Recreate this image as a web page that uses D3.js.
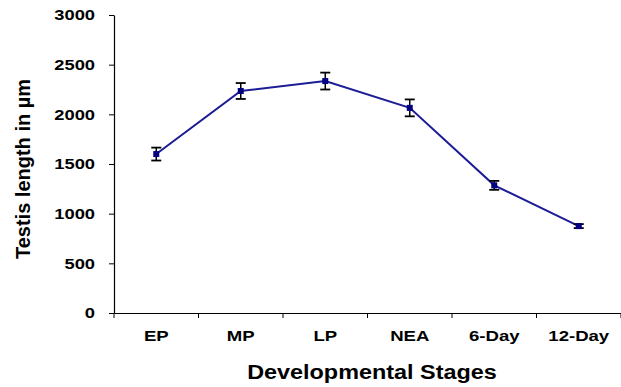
<!DOCTYPE html>
<html>
<head>
<meta charset="utf-8">
<script src="https://cdn.jsdelivr.net/npm/d3@7"></script>
<style>
  body { margin: 0; background: #fff; }
  text { font-family: "Liberation Sans", Arial, sans-serif; font-weight: bold; fill: #000; }
</style>
</head>
<body>
<div id="chart"></div>
<script>
// Chart data
var stages = ["EP", "MP", "LP", "NEA", "6-Day", "12-Day"];
var lengths = [1600, 2235, 2335, 2065, 1285, 875];
var errors = [65, 80, 85, 85, 45, 20];
var yTicks = [0, 500, 1000, 1500, 2000, 2500, 3000];

var margin = {top: 15, right: 0, bottom: 74, left: 114};
var width = 621 - margin.left - margin.right,
    height = 387 - margin.top - margin.bottom;

var svg = d3.select("#chart").append("svg")
    .attr("width", 621)
    .attr("height", 387)
    .append("g")
    .attr("transform", "translate(" + margin.left + "," + margin.top + ")");

var x = d3.scaleBand()
    .domain(stages)
    .range([0, width]);

var y = d3.scaleLinear()
    .domain([0, 3000])
    .range([height, 0]);

// the original text is a bit wide, so stretch it horizontally
function stretch(sel, k) {
    sel.each(function() {
        var w = this.getComputedTextLength();
        d3.select(this)
            .attr("textLength", w * k)
            .attr("lengthAdjust", "spacingAndGlyphs");
    });
}

// Y axis
var yAxis = svg.append("g")
    .call(d3.axisLeft(y).tickValues(yTicks).tickFormat(d3.format("d")).tickSize(5).tickSizeOuter(0));
yAxis.selectAll("text")
    .style("font-size", "15px")
    .attr("x", -19)
    .call(stretch, 1.22);

// X axis
var xAxis = svg.append("g")
    .attr("transform", "translate(0," + height + ")")
    .call(d3.axisBottom(x).tickSize(0).tickSizeOuter(0));
xAxis.selectAll("text")
    .style("font-size", "14.5px")
    .attr("dy", null)
    .attr("y", 28)
    .call(stretch, 1.28);

// tick marks between categories
xAxis.selectAll("line.sep")
    .data(d3.range(stages.length + 1))
    .enter().append("line")
    .attr("class", "sep")
    .attr("x1", function(i) { return i * x.bandwidth(); })
    .attr("x2", function(i) { return i * x.bandwidth(); })
    .attr("y1", 0)
    .attr("y2", 5)
    .attr("stroke", "#000");

svg.selectAll(".domain").attr("stroke", "#000").attr("stroke-width", 1.2);

// Line
var points = stages.map(function(s, i) { return {stage: s, value: lengths[i], err: errors[i]}; });

var line = d3.line()
    .x(function(d) { return x(d.stage) + x.bandwidth() / 2; })
    .y(function(d) { return y(d.value); });

svg.append("path")
    .datum(points)
    .attr("d", line)
    .attr("fill", "none")
    .attr("stroke", "#1c1c96")
    .attr("stroke-width", 2);

// Error bars
var eb = svg.selectAll("g.err")
    .data(points)
    .enter().append("g")
    .attr("class", "err")
    .attr("transform", function(d) { return "translate(" + (x(d.stage) + x.bandwidth() / 2) + ",0)"; });

eb.append("line")
    .attr("y1", function(d) { return y(d.value + d.err); })
    .attr("y2", function(d) { return y(d.value - d.err); })
    .attr("stroke", "#000")
    .attr("stroke-width", 1.5);

eb.append("line")
    .attr("x1", -5).attr("x2", 5)
    .attr("y1", function(d) { return y(d.value + d.err); })
    .attr("y2", function(d) { return y(d.value + d.err); })
    .attr("stroke", "#000")
    .attr("stroke-width", 1.8);

eb.append("line")
    .attr("x1", -5).attr("x2", 5)
    .attr("y1", function(d) { return y(d.value - d.err); })
    .attr("y2", function(d) { return y(d.value - d.err); })
    .attr("stroke", "#000")
    .attr("stroke-width", 1.8);

// Markers
eb.append("rect")
    .attr("x", -3)
    .attr("y", function(d) { return y(d.value) - 3; })
    .attr("width", 6)
    .attr("height", 6)
    .attr("fill", "#000080");

// Axis titles
svg.append("text")
    .attr("x", 372 - margin.left)
    .attr("y", height + 66)
    .attr("text-anchor", "middle")
    .style("font-size", "19.5px")
    .text("Developmental Stages")
    .call(stretch, 1.2);

svg.append("text")
    .attr("transform", "rotate(-90)")
    .attr("x", -(169 - margin.top))
    .attr("y", 30 - margin.left)
    .attr("text-anchor", "middle")
    .style("font-size", "20px")
    .text("Testis length in µm");
</script>
</body>
</html>
